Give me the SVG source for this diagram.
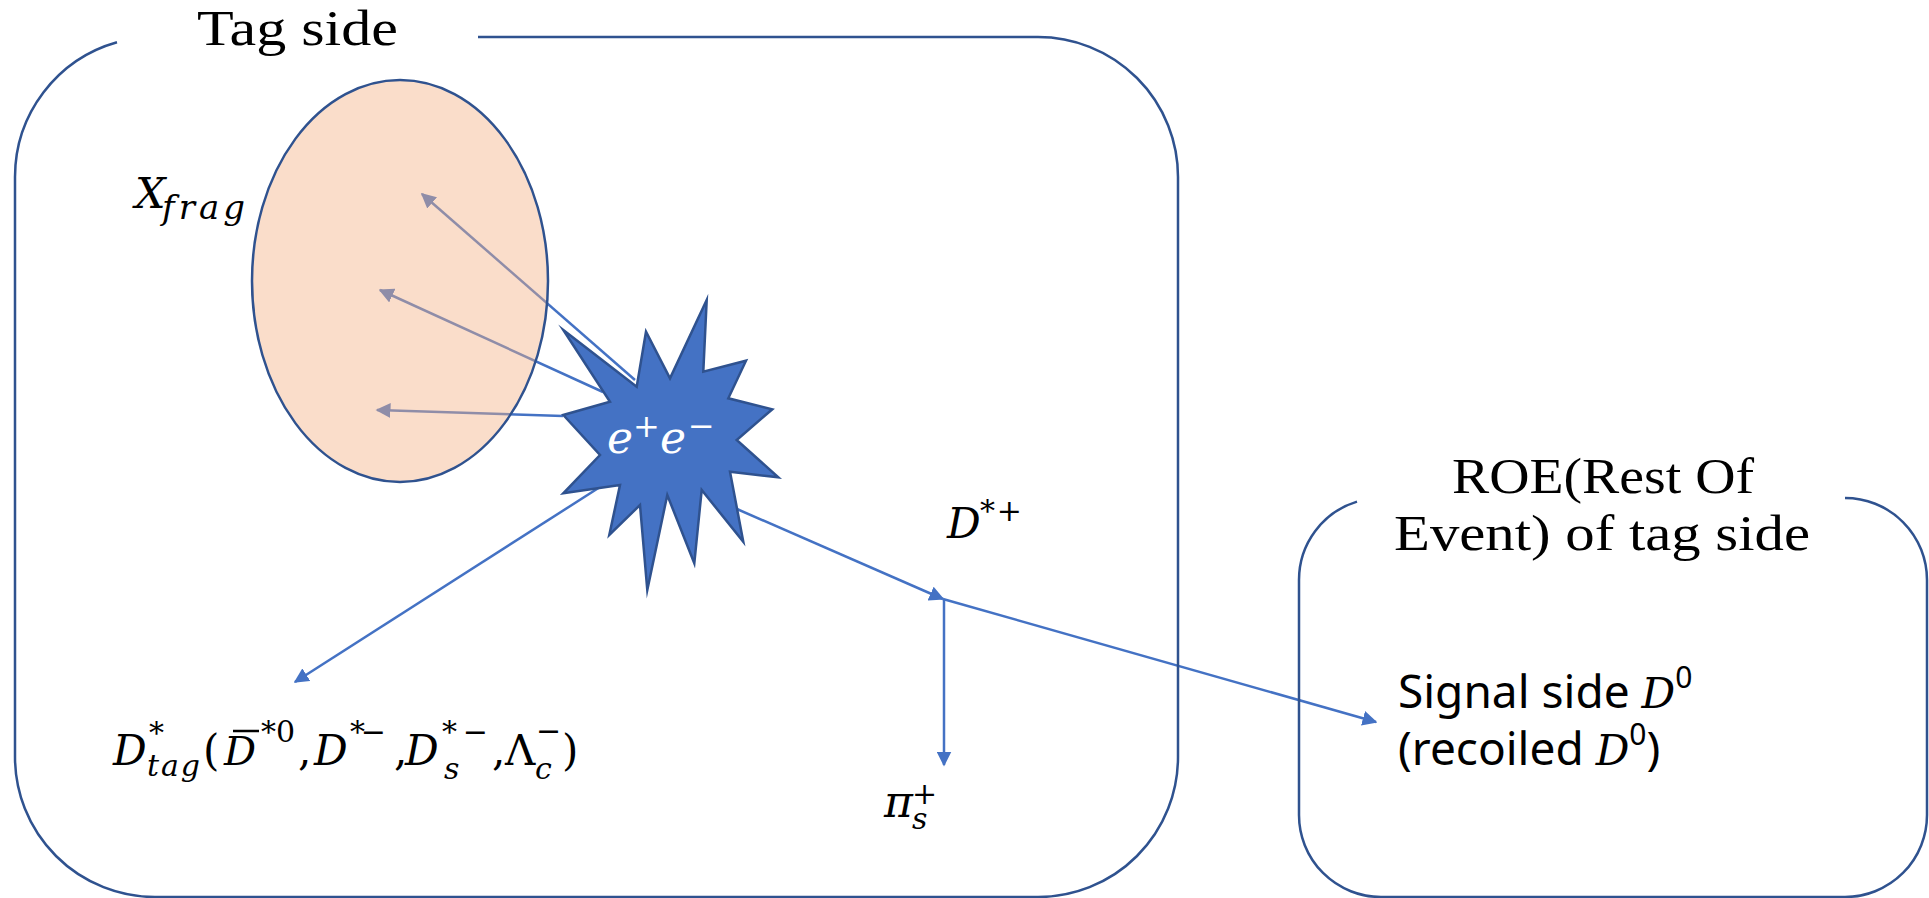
<svg xmlns="http://www.w3.org/2000/svg" width="1929" height="898" viewBox="0 0 1929 898">
<defs>
<marker id="arr" viewBox="0 0 10 10" markerUnits="userSpaceOnUse" markerWidth="15" markerHeight="15" refX="9" refY="5" orient="auto">
<path d="M0,0 L10,5 L0,10 z" fill="#4472C4"/>
</marker>
</defs>
<style>
.box{fill:none;stroke:#2F528F;stroke-width:2.5}
.conn{stroke:#4472C4;stroke-width:2.5;fill:none;marker-end:url(#arr)}
.serif{font-family:"Liberation Serif","Times New Roman",serif;fill:#000}
.math{font-family:"DejaVu Serif",serif;font-style:italic;fill:#000}
.up{font-style:normal}
.sans{font-family:"Noto Sans","Open Sans",sans-serif;fill:#000}
</style>
<rect width="1929" height="898" fill="#fff"/>

<g id="connectors">
<line class="conn" x1="635" y1="380" x2="422" y2="194"/>
<line class="conn" x1="603" y1="392" x2="380" y2="290"/>
<line class="conn" x1="563" y1="416" x2="377" y2="410"/>
<line class="conn" x1="600" y1="487" x2="295" y2="682"/>
<line class="conn" x1="737" y1="509" x2="943" y2="599"/>
<line class="conn" x1="943" y1="599" x2="1376" y2="722"/>
<line class="conn" x1="944" y1="600" x2="944" y2="765"/>
</g>

<g id="tag-side">
<path class="box" d="M478,37 L1038,37 A140,140 0 0 1 1178,177 L1178,757 A140,140 0 0 1 1038,897 L155,897 A140,140 0 0 1 15,757 L15,177 A140,140 0 0 1 117,42.3"/>
<text class="serif" x="197" y="45" font-size="51" textLength="201" lengthAdjust="spacingAndGlyphs">Tag side</text>
</g>

<g id="roe">
<path class="box" d="M1845,498 A82,82 0 0 1 1927,580 L1927,815 A82,82 0 0 1 1845,897 L1381,897 A82,82 0 0 1 1299,815 L1299,580 A82,82 0 0 1 1357,501.6"/>
<text class="serif" x="1452" y="493" font-size="51" textLength="302" lengthAdjust="spacingAndGlyphs">ROE(Rest Of</text>
<text class="serif" x="1394" y="550" font-size="51" textLength="416" lengthAdjust="spacingAndGlyphs">Event) of tag side</text>
</g>

<g id="xfrag">
<ellipse cx="400" cy="281" rx="148" ry="201" fill="#F4B183" fill-opacity="0.43" stroke="#2F528F" stroke-width="2.5"/>
<text class="math" font-size="43"><tspan x="135" y="208">X</tspan><tspan x="162" y="219" font-size="34" textLength="83" lengthAdjust="spacing">frag</tspan></text>
</g>

<g id="ee">
<polygon fill="#4472C4" stroke="#2F528F" stroke-width="2.5" stroke-linejoin="miter" stroke-miterlimit="10" points="563.3,330 636.7,386.7 646,331.7 670,378.3 706.7,300 703.3,371.7 746,360.7 728.3,398.3 772.3,409.3 736.7,440 778.3,477.3 730,471.7 743.3,541.7 701.7,490 694.3,563.3 667.3,495 647.3,590 640,505 609.3,535 620,485 563.3,493.3 600,455 563.3,415 610,401.7"/>
<text font-family="DejaVu Serif, serif" font-style="italic" fill="#fff" font-size="44"><tspan x="607" y="453">e</tspan><tspan x="633" y="437" font-size="32" font-style="normal">+</tspan><tspan x="660" y="453">e</tspan><tspan x="688" y="437" font-size="32" font-style="normal">−</tspan></text>
</g>

<g id="dtag">
<text class="math" font-size="42">
<tspan x="113" y="765">D</tspan>
<tspan x="149" y="743" font-size="30" class="up">*</tspan>
<tspan x="147" y="776" font-size="30" textLength="53" lengthAdjust="spacing">tag</tspan>
<tspan x="203" y="765" class="up">(</tspan>
<tspan x="224" y="765" font-size="40">D</tspan>
<tspan x="261" y="742" font-size="30" class="up" textLength="34" lengthAdjust="spacing">*0</tspan>
<tspan x="298" y="765" class="up">,</tspan>
<tspan x="314" y="765">D</tspan>
<tspan x="350" y="742" font-size="30" class="up" textLength="36" lengthAdjust="spacing">*−</tspan>
<tspan x="394" y="765" class="up">,</tspan>
<tspan x="405" y="765">D</tspan>
<tspan x="442" y="742" font-size="30" class="up" textLength="46" lengthAdjust="spacing">*−</tspan>
<tspan x="444" y="779" font-size="30">s</tspan>
<tspan x="492" y="765" class="up">,</tspan>
<tspan x="505" y="765" class="up">Λ</tspan>
<tspan x="536" y="741" font-size="30" class="up">−</tspan>
<tspan x="535" y="779" font-size="30">c</tspan>
<tspan x="562" y="765" class="up">)</tspan>
</text>
<line x1="233" y1="731" x2="259" y2="731" stroke="#000" stroke-width="2.5"/>
</g>

<g id="dstar">
<text class="math" font-size="42"><tspan x="947" y="538">D</tspan><tspan x="980" y="521" font-size="30" class="up" textLength="42" lengthAdjust="spacing">*+</tspan></text>
</g>

<g id="pis">
<text class="math" font-size="44"><tspan x="884" y="817">π</tspan><tspan x="912" y="829" font-size="30">s</tspan><tspan x="912" y="804" font-size="30" class="up">+</tspan></text>
</g>

<g id="signal">
<text class="sans" font-size="46"><tspan x="1398" y="708">Signal side </tspan><tspan class="math" font-size="42">D</tspan><tspan font-size="30" dy="-20">0</tspan></text>
<text class="sans" font-size="46"><tspan x="1398" y="765">(recoiled </tspan><tspan class="math" font-size="42">D</tspan><tspan font-size="30" dy="-20">0</tspan><tspan dy="20">)</tspan></text>
</g>
</svg>
